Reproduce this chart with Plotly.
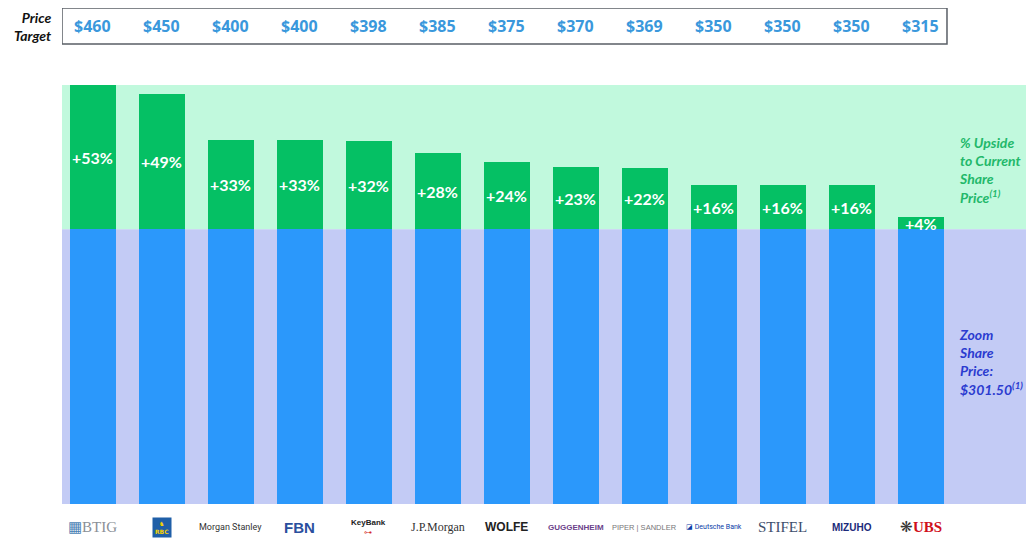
import plotly.graph_objects as go

banks = ["BTIG", "RBC", "Morgan Stanley", "FBN", "KeyBank", "J.P.Morgan", "WOLFE",
         "GUGGENHEIM", "PIPER | SANDLER", "Deutsche Bank", "STIFEL", "MIZUHO", "UBS"]
price_targets = [460, 450, 400, 400, 398, 385, 375, 370, 369, 350, 350, 350, 315]
upside_labels = ["+53%", "+49%", "+33%", "+33%", "+32%", "+28%", "+24%", "+23%", "+22%",
                 "+16%", "+16%", "+16%", "+4%"]
share_price = 301.50

x = list(range(len(banks)))
green = [t - share_price for t in price_targets]

fig = go.Figure()
fig.add_trace(go.Bar(x=x, y=[share_price] * len(x), marker_color="#2b98fb",
                     width=0.667, marker_line_width=0, hoverinfo="skip"))
fig.add_trace(go.Bar(x=x, y=green, marker_color="#05c064", width=0.667,
                     marker_line_width=0, hoverinfo="skip"))

# background bands
fig.add_shape(type="rect", xref="paper", yref="y", x0=0, x1=1, y0=share_price, y1=max(price_targets),
              fillcolor="#c1f9dd", line_width=0, layer="below")
fig.add_shape(type="rect", xref="paper", yref="y", x0=0, x1=1, y0=0, y1=share_price,
              fillcolor="#c3cbf5", line_width=0, layer="below")

# price target box
fig.add_shape(type="rect", xref="x", yref="paper", x0=-0.449, x1=12.377, y0=1.0979, y1=1.1838,
              line=dict(color="#5a5f66", width=1.5), fillcolor="white")

ann = []
for i, t in enumerate(price_targets):
    ann.append(dict(x=i, y=1.1408, xref="x", yref="paper", yanchor="middle", text=f"<b>${t}</b>",
                    showarrow=False, font=dict(family="Open Sans", size=16, color="#3a98dc")))
for i, (t, lab) in enumerate(zip(price_targets, upside_labels)):
    ann.append(dict(x=i, y=(share_price + t) / 2, xref="x", yref="y", yanchor="middle",
                    text=f"<b>{lab}</b>", showarrow=False,
                    font=dict(family="Lato", size=16, color="white")))

ann.append(dict(x=-0.009, y=1.1408, xref="paper", yref="paper", xanchor="right", yanchor="middle",
                align="right", text="<b><i>Price<br>Target</i></b>", showarrow=False,
                font=dict(family="Lato", size=14, color="#111111")))
ann.append(dict(x=12.52, y=0.797, xref="x", yref="paper", xanchor="left", yanchor="middle",
                align="left",
                text="<b><i>% Upside<br>to Current<br>Share<br>Price<sup>(1)</sup></i></b>",
                showarrow=False, font=dict(family="Lato", size=14, color="#22b86a")))
ann.append(dict(x=12.52, y=0.339, xref="x", yref="paper", xanchor="left", yanchor="middle",
                align="left",
                text="<b><i>Zoom<br>Share<br>Price:<br>$301.50<sup>(1)</sup></i></b>",
                showarrow=False, font=dict(family="Lato", size=14, color="#2b3bd0")))

# bank "logos" as styled text
logo_styles = [
    dict(text="<span style='color:#4a7fb5'>▦</span>BTIG", font=dict(family="Liberation Serif", size=15, color="#8a8f96")),
    dict(text="<b>♞<br>RBC</b>", font=dict(family="DejaVu Sans", size=6, color="#f5d100"), bgcolor="#1f5fa8", borderpad=2),
    dict(text="Morgan Stanley", font=dict(family="Roboto", size=9, color="#333333")),
    dict(text="<b>FBN</b>", font=dict(family="Liberation Sans", size=15, color="#2a4f9e")),
    dict(text="<b>KeyBank</b><br><span style='color:#d42a2a'>⊶</span>", font=dict(family="Liberation Sans", size=8, color="#222222")),
    dict(text="J.P.Morgan", font=dict(family="Liberation Serif", size=12, color="#333333")),
    dict(text="<b>WOLFE</b>", font=dict(family="Liberation Sans", size=12, color="#222222")),
    dict(text="<b>GUGGENHEIM</b>", font=dict(family="Liberation Sans", size=8, color="#6b3f8a")),
    dict(text="PIPER | SANDLER", font=dict(family="Liberation Sans", size=7.5, color="#777777")),
    dict(text="<span style='color:#0a3ca8'>◪</span> Deutsche Bank", font=dict(family="Roboto", size=7, color="#0a3ca8")),
    dict(text="STIFEL", font=dict(family="Liberation Serif", size=15, color="#3d4d6b")),
    dict(text="<b>MIZUHO</b>", font=dict(family="Liberation Sans", size=10, color="#1b2a7a")),
    dict(text="<span style='color:#333333'>❋</span><b>UBS</b>", font=dict(family="Liberation Serif", size=15, color="#d0101c")),
]
for i, st in enumerate(logo_styles):
    a = dict(x=i, y=-0.0549, xref="x", yref="paper", showarrow=False, yanchor="middle")
    a.update(st)
    ann.append(a)

# page body has an 8px margin; size the figure so the plot lands where the reference has it
fig.update_layout(
    width=1026, height=533,
    margin=dict(l=54, r=0, t=77, b=37),
    barmode="stack", showlegend=False,
    plot_bgcolor="white", paper_bgcolor="white",
    xaxis=dict(range=[-0.449, 13.638], visible=False, fixedrange=True),
    yaxis=dict(range=[0, 460], visible=False, fixedrange=True),
    annotations=ann,
)
fig.write_html("out.html")
